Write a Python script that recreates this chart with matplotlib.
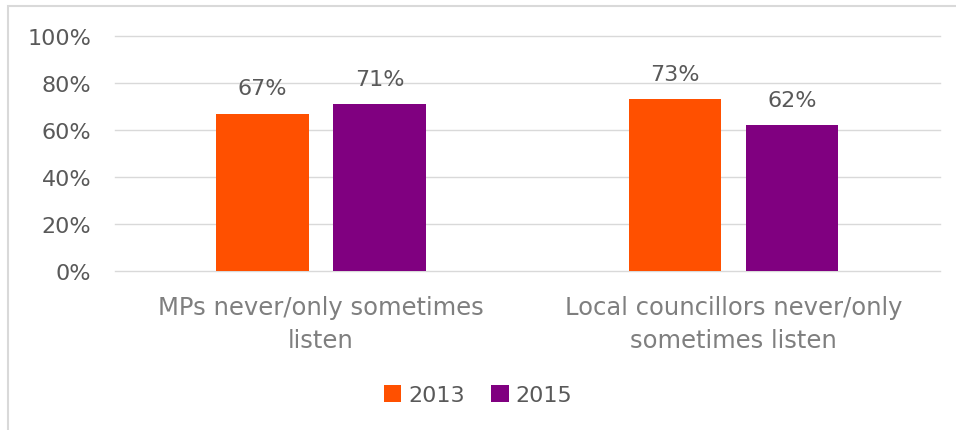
import matplotlib.pyplot as plt
import numpy as np
from matplotlib.patches import Rectangle

# Data
categories = ['MPs never/only sometimes\nlisten', 'Local councillors never/only\nsometimes listen']
years = ['2013', '2015']
values_2013 = [67, 73]
values_2015 = [71, 62]
colors = ['#FF5000', '#800080']
yticks = [0, 20, 40, 60, 80, 100]

plt.rcParams['font.family'] = ['DejaVu Sans']
text_grey = '#595959'

fig = plt.figure(figsize=(9.56, 4.31), dpi=100)
ax = fig.add_axes([0.120, 0.369, 0.863, 0.545])

x = np.arange(len(categories))
width = 0.225
offset = 0.142
series = [values_2013, values_2015]
for i, (vals, year) in enumerate(zip(series, years)):
    pos = x + (offset if i else -offset)
    bars = ax.bar(pos, vals, width, color=colors[i], label=year, zorder=3)
    for b, v in zip(bars, vals):
        ax.annotate(f'{v}%', (b.get_x() + b.get_width() / 2, v),
                    xytext=(0, 11), textcoords='offset points',
                    ha='center', va='bottom', fontsize=16, color=text_grey)

ax.set_xlim(-0.5, 1.5)
ax.set_ylim(0, 100)
ax.set_yticks(yticks)
ax.set_yticklabels([f'{t}%' for t in yticks], fontsize=16, color=text_grey)
ax.set_xticks(x)
ax.set_xticklabels(categories, fontsize=17.5, color='#7f7f7f', linespacing=1.5)
ax.tick_params(axis='both', length=0)
ax.tick_params(axis='y', pad=17)
ax.tick_params(axis='x', pad=17)
ax.grid(axis='y', color='#d9d9d9', linewidth=1.0, zorder=0)
for gl in ax.get_ygridlines():
    gl.set_clip_on(False)
for s in ax.spines.values():
    s.set_visible(False)

leg = fig.legend(loc='center', bbox_to_anchor=(0.5, 1 - 396 / 431), ncol=2,
                 frameon=False, fontsize=16, handlelength=0.8, handleheight=0.8,
                 handletextpad=0.3, columnspacing=1.2)
for t in leg.get_texts():
    t.set_color(text_grey)

# outer chart frame (partly cut off in the original)
fig.patches.append(Rectangle((8 / 956, -0.05), 1.2, 1 - 7 / 431 + 0.05,
                             transform=fig.transFigure, fill=False,
                             edgecolor='#d9d9d9', linewidth=1.5))

fig.savefig('out.png', dpi=100)
